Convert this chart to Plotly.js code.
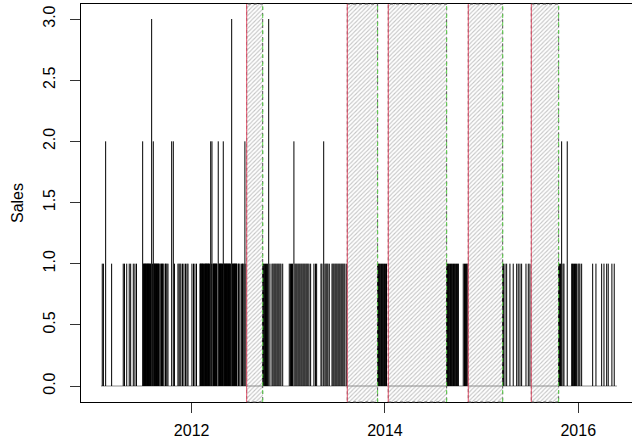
<!DOCTYPE html>
<html>
<head>
<meta charset="utf-8">
<script src="https://cdn.plot.ly/plotly-3.0.1.min.js"></script>
<style>html,body{margin:0;padding:0;background:#fff;}</style>
</head>
<body>
<div id="chart" style="width:632px;height:441px;"></div>
<script>
// Days with sales, as decimal years (R ts time index), grouped by units sold
const oneUnitTimes = [
2011.075,2011.087,2011.172,2011.292,2011.305,2011.328,2011.354,2011.369,2011.396,2011.413,2011.429,
2011.501,2011.506,2011.512,2011.517,2011.522,2011.527,2011.532,2011.538,2011.543,2011.548,2011.553,2011.558,
2011.563,2011.569,2011.574,2011.594,2011.610,2011.615,2011.620,2011.625,2011.630,2011.636,2011.641,2011.646,
2011.652,2011.657,2011.662,2011.672,2011.682,2011.688,2011.698,2011.703,2011.713,2011.729,2011.734,2011.744,2011.755,
2011.822,2011.858,2011.869,2011.879,2011.889,2011.905,2011.920,2011.936,2011.951,2011.962,
2012.003,2012.019,2012.034,2012.050,
2012.086,2012.091,2012.096,2012.101,2012.107,2012.112,2012.117,2012.122,2012.132,2012.138,2012.143,2012.148,
2012.153,2012.158,2012.163,2012.169,2012.174,2012.179,2012.184,2012.203,2012.220,2012.226,2012.231,2012.236,
2012.241,2012.246,2012.251,2012.257,2012.262,2012.282,2012.288,2012.293,2012.298,2012.303,2012.308,2012.313,
2012.319,2012.334,2012.339,2012.344,2012.350,2012.355,2012.360,2012.365,2012.370,2012.375,2012.381,2012.386,
2012.391,2012.396,2012.401,2012.422,2012.427,2012.432,2012.438,2012.443,2012.448,2012.453,2012.458,2012.464,
2012.469,2012.484,2012.489,2012.500,2012.517,2012.526,2012.531,2012.541,2012.562,
2012.735,2012.743,2012.753,2012.764,2012.774,2012.784,2012.810,2012.831,2012.841,2012.852,2012.862,2012.872,
2012.883,2012.893,2012.903,2012.914,2012.924,2012.942,
2013.010,2013.022,2013.033,2013.043,2013.069,2013.079,2013.089,2013.100,2013.110,2013.120,2013.131,2013.141,
2013.152,2013.162,2013.172,2013.183,2013.193,2013.203,2013.214,2013.231,2013.265,2013.281,2013.293,
2013.338,2013.348,2013.379,2013.390,2013.400,2013.410,2013.424,2013.452,2013.462,2013.472,2013.483,2013.493,
2013.503,2013.514,2013.524,2013.534,2013.545,2013.555,2013.565,2013.576,2013.586,2013.604,
2013.924,2013.933,2013.943,2013.953,2013.964,2013.974,2013.984,2013.995,2014.005,2014.016,
2014.638,2014.647,2014.657,2014.667,2014.678,2014.688,2014.698,2014.709,2014.719,2014.729,2014.740,2014.750,
2014.760,2014.810,2014.823,2014.833,2014.843,2014.852,
2015.218,2015.226,2015.242,2015.259,2015.293,2015.327,2015.363,2015.379,2015.397,2015.414,2015.459,2015.483,2015.500,
2015.797,2015.806,2015.816,2015.842,2015.852,2015.932,2015.940,2015.950,2015.961,2015.971,2015.981,2015.997,
2016.007,2016.017,2016.035,2016.149,2016.183,2016.242,2016.266,2016.294,2016.310,2016.348,2016.372
];
const twoUnitTimes = [
2011.110,2011.493,2011.603,2011.793,2011.810,2012.197,2012.210,2012.275,2012.327,2012.551,
2013.058,2013.366,2015.828,2015.886
];
const threeUnitTimes = [2011.586, 2012.414, 2012.797];

// Observation window of the daily series (zero-sales baseline)
const seriesStart = 2011.062;
const seriesEnd = 2016.400;
// Stock-out periods: start (red line) and end (green dashed line)
const outStart = [2012.569, 2013.610, 2014.034, 2014.862, 2015.514];
const outEnd   = [2012.735, 2013.924, 2014.638, 2015.218, 2015.797];

const xTicks = [2012, 2014, 2016];
const xTickText = ['2012', '2014', '2016'];
const yTicks = [0, 0.5, 1, 1.5, 2, 2.5, 3];
const yTickText = ['0.0', '0.5', '1.0', '1.5', '2.0', '2.5', '3.0'];

const xRange = [2010.855, 2016.556];
const yRange = [-0.1308, 3.1226];

// vertical "h" lines
const hx = [], hy = [];
[[oneUnitTimes, 1], [twoUnitTimes, 2], [threeUnitTimes, 3]].forEach(([arr, q]) => {
  arr.forEach(t => { hx.push(t, t, null); hy.push(0, q, null); });
});

const hatch = {
  type: 'bar',
  x: outStart.map((s, i) => (s + outEnd[i]) / 2),
  width: outStart.map((s, i) => outEnd[i] - s),
  base: outStart.map(() => yRange[0]),
  y: outStart.map(() => yRange[1] - yRange[0]),
  marker: {
    color: 'rgba(0,0,0,0)',
    line: {width: 0},
    pattern: {shape: '/', fgcolor: '#c4c4c4', bgcolor: 'rgba(0,0,0,0)', size: 3, solidity: 0.35}
  },
  hoverinfo: 'skip',
  showlegend: false
};

const baseline = {
  type: 'scatter', mode: 'lines',
  x: [seriesStart, seriesEnd], y: [0, 0],
  line: {color: '#8c8c8c', width: 1},
  hoverinfo: 'skip', showlegend: false
};

const spikes = {
  type: 'scatter', mode: 'lines',
  x: hx, y: hy,
  line: {color: '#000000', width: 1},
  connectgaps: false,
  hoverinfo: 'skip', showlegend: false
};

const shapes = [];
outStart.forEach((s, i) => {
  shapes.push({type: 'rect', xref: 'x', yref: 'paper', x0: s, x1: outEnd[i], y0: 0, y1: 1,
    line: {color: '#555555', width: 1, dash: '3px,3px'}, fillcolor: 'rgba(0,0,0,0)', layer: 'above'});
  shapes.push({type: 'line', xref: 'x', yref: 'paper', x0: s, x1: s, y0: 0, y1: 1,
    line: {color: '#DF536B', width: 1}, layer: 'above'});
  shapes.push({type: 'line', xref: 'x', yref: 'paper', x0: outEnd[i], x1: outEnd[i], y0: 0, y1: 1,
    line: {color: '#61D04F', width: 1, dash: '4px,4px'}, layer: 'above'});
});

const font = {family: '"Liberation Sans", Arial, Helvetica, sans-serif', size: 16, color: '#000'};

const layout = {
  width: 632, height: 441,
  margin: {l: 81, r: 0, t: 4, b: 39, pad: 0},
  paper_bgcolor: '#fff', plot_bgcolor: '#fff',
  font: font,
  showlegend: false,
  bargap: 0,
  xaxis: {
    type: 'linear', range: xRange,
    tickmode: 'array', tickvals: xTicks, ticktext: xTickText,
    ticks: 'outside', ticklen: 10, tickwidth: 1, tickcolor: '#333',
    showgrid: false, zeroline: false,
    showline: true, linecolor: '#000', linewidth: 1, mirror: true,
    tickfont: font, ticklabelstandoff: 4
  },
  yaxis: {
    range: yRange,
    tickmode: 'array', tickvals: yTicks, ticktext: yTickText,
    ticks: 'outside', ticklen: 10, tickwidth: 1, tickcolor: '#333',
    tickangle: -90, ticklabelstandoff: 9,
    showgrid: false, zeroline: false,
    showline: true, linecolor: '#000', linewidth: 1, mirror: false,
    tickfont: font,
    title: {text: 'Sales', font: font, standoff: 12}
  },
  shapes: shapes
};

Plotly.newPlot('chart', [hatch, baseline, spikes], layout, {staticPlot: true, displayModeBar: false});
</script>
</body>
</html>
